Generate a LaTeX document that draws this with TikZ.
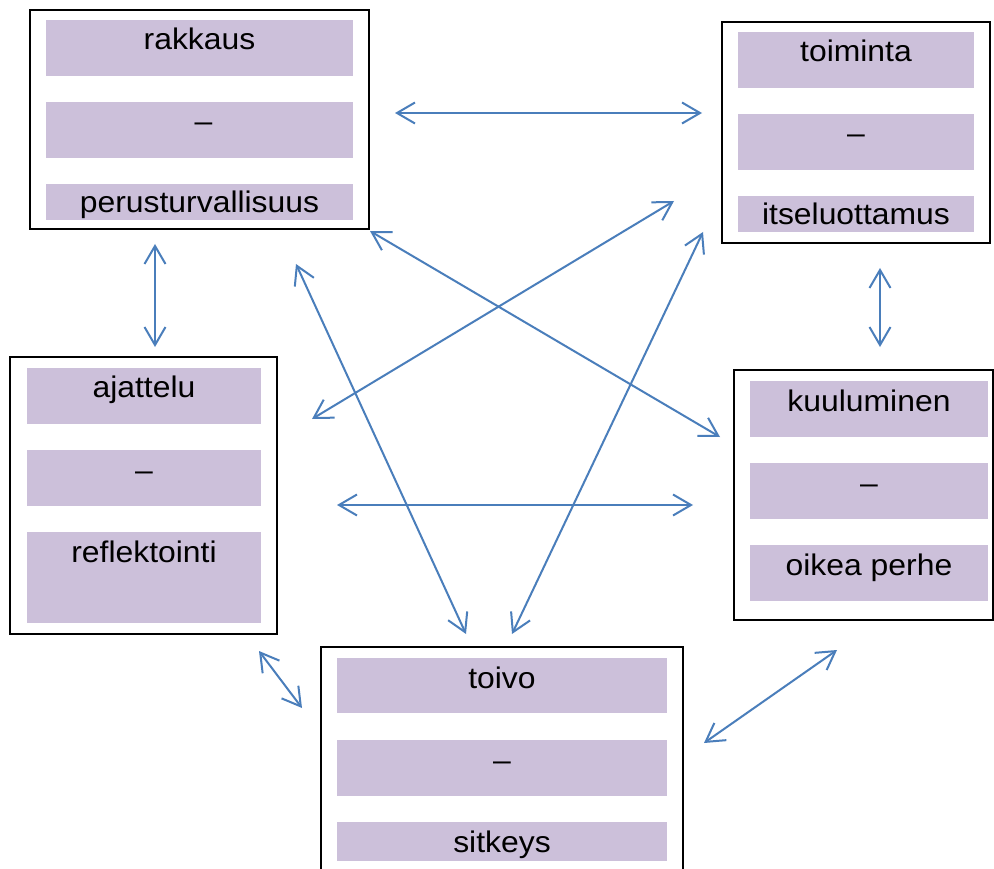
\documentclass[tikz,border=0pt]{standalone}
\usepackage{fontspec}
\setmainfont{Liberation Sans}
\usetikzlibrary{arrows.meta}
\definecolor{barfill}{HTML}{CCC0DA}
\definecolor{arrowblue}{RGB}{74,126,187}
\begin{document}
\begin{tikzpicture}[x=1pt,y=-1pt,
  frame/.style={draw=black, line width=2pt},
  bar/.style={fill=barfill, draw=none},
  lbl/.style={anchor=base, inner sep=0pt, xscale=1.07, font=\fontsize{29.8}{36}\selectfont},
  link/.style={draw=arrowblue, line width=2pt,
    {Straight Barb[length=18pt,width=21pt,line width=2pt]}-{Straight Barb[length=18pt,width=21pt,line width=2pt]}}]
\useasboundingbox (0,0) rectangle (994,869);
\fill[white] (0,0) rectangle (994,869);

% box 1: rakkaus
\draw[frame] (30,10) rectangle (369,229);
\fill[bar] (46,20) rectangle (353,76);
\fill[bar] (46,102) rectangle (353,158);
\fill[bar] (46,184) rectangle (353,220);
\node[lbl] (t1a) at (199.5,50) {rakkaus};
\node[lbl] (t1b) at (203.5,132) {–};
\node[lbl] (t1c) at (199.5,213) {perusturvallisuus};

% box 2: toiminta
\draw[frame] (722,22) rectangle (990,243);
\fill[bar] (738,32) rectangle (974,88);
\fill[bar] (738,114) rectangle (974,170);
\fill[bar] (738,196) rectangle (974,232);
\node[lbl] (t2a) at (856,62) {toiminta};
\node[lbl] (t2b) at (856,144) {–};
\node[lbl] (t2c) at (856,225) {itseluottamus};

% box 3: ajattelu
\draw[frame] (10,357) rectangle (277,634);
\fill[bar] (27,368) rectangle (261,424);
\fill[bar] (27,450) rectangle (261,506);
\fill[bar] (27,532) rectangle (261,623);
\node[lbl] (t3a) at (144,397) {ajattelu};
\node[lbl] (t3b) at (144,480) {–};
\node[lbl] (t3c) at (144,562) {reflektointi};

% box 4: kuuluminen
\draw[frame] (734,370) rectangle (993,620);
\fill[bar] (750,381) rectangle (988,437);
\fill[bar] (750,463) rectangle (988,519);
\fill[bar] (750,545) rectangle (988,601);
\node[lbl] (t4a) at (869,411) {kuuluminen};
\node[lbl] (t4b) at (869,493) {–};
\node[lbl] (t4c) at (869,575) {oikea perhe};

% box 5: toivo
\draw[frame] (321,647) rectangle (683,885);
\fill[bar] (337,658) rectangle (667,713);
\fill[bar] (337,740) rectangle (667,796);
\fill[bar] (337,822) rectangle (667,861);
\node[lbl] (t5a) at (502,688) {toivo};
\node[lbl] (t5b) at (502,770) {–};
\node[lbl] (t5c) at (502,852) {sitkeys};

% arrow end points
\coordinate (a1s) at (395,113);  \coordinate (a1e) at (702,113);
\coordinate (a2s) at (155,244);  \coordinate (a2e) at (155,347);
\coordinate (a3s) at (880,268);  \coordinate (a3e) at (880,347);
\coordinate (a4s) at (370,231);  \coordinate (a4e) at (720,437);
\coordinate (a5s) at (674,201);  \coordinate (a5e) at (312,419);
\coordinate (a6s) at (296,264);  \coordinate (a6e) at (466,634);
\coordinate (a7s) at (703,232);  \coordinate (a7e) at (512,634);
\coordinate (a8s) at (337,505);  \coordinate (a8e) at (693,505);
\coordinate (a9s) at (259,651);  \coordinate (a9e) at (302,708);
\coordinate (a10s) at (837,650); \coordinate (a10e) at (704,743);

\draw[link] (a1s) -- (a1e);
\draw[link] (a2s) -- (a2e);
\draw[link] (a3s) -- (a3e);
\draw[link] (a4s) -- (a4e);
\draw[link] (a5s) -- (a5e);
\draw[link] (a6s) -- (a6e);
\draw[link] (a7s) -- (a7e);
\draw[link] (a8s) -- (a8e);
\draw[link] (a9s) -- (a9e);
\draw[link] (a10s) -- (a10e);
\end{tikzpicture}
\end{document}
